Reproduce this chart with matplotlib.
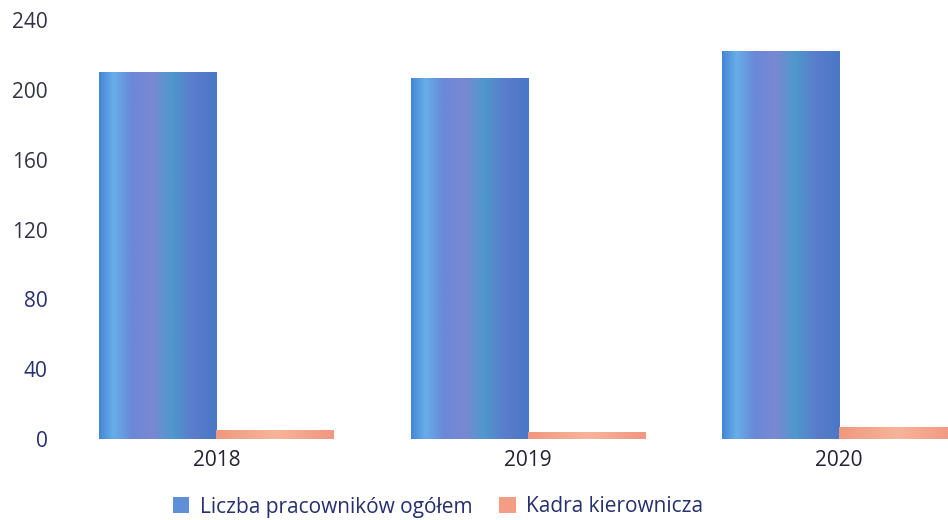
import matplotlib.pyplot as plt
import numpy as np
from matplotlib.colors import LinearSegmentedColormap
from matplotlib.patches import Patch

years = ["2018", "2019", "2020"]
total_staff = [210, 207, 222]
managers = [5, 4, 7]
y_ticks = [0, 40, 80, 120, 160, 200, 240]
tick_colors = ["#26306e", "#26306e", "#26306e", "#333344", "#333344", "#333344", "#333344"]

plt.rcParams['font.family'] = ['Open Sans', 'DejaVu Sans']

blue_cmap = LinearSegmentedColormap.from_list("scanblue", [
    (0.0, "#4586d6"), (0.12, "#66aee8"), (0.28, "#6a88d8"),
    (0.45, "#7a88d2"), (0.62, "#4f98cc"), (0.8, "#5a7ccc"), (1.0, "#4a78c6")])
orange_cmap = LinearSegmentedColormap.from_list("scanorange", ["#f0987e", "#f7b49a", "#f29680"])

fig = plt.figure(figsize=(9.48, 5.2), dpi=100)
ax = fig.add_axes([70 / 948, 1 - 439 / 520, 1 - 70 / 948, (439 - 20) / 520])

x = np.arange(len(years))
w = 0.376
blue_bars = ax.bar(x - w / 2, total_staff, w, color="#5b86d4", edgecolor="#3a5fb0", linewidth=0.6)
orange_bars = ax.bar(x + w / 2, managers, w, color="#f49c84", linewidth=0)

# fake the scanned stripe look with a horizontal gradient clipped to each bar
grad = np.linspace(0, 1, 256).reshape(1, -1)
for bars, cmap in [(blue_bars, blue_cmap), (orange_bars, orange_cmap)]:
    for b in bars:
        x0, y0 = b.get_x(), b.get_y()
        im = ax.imshow(grad, cmap=cmap, aspect="auto", zorder=b.get_zorder() + 0.1,
                       extent=[x0, x0 + b.get_width(), y0, y0 + b.get_height()])
        im.set_clip_path(b)

ax.set_xlim(-0.47, 2.35)
ax.set_ylim(0, 240)
ax.set_xticks(x)
ax.set_xticklabels(years, fontsize=15, color="#222233")
ax.set_yticks(y_ticks)
ax.set_yticklabels([str(v) for v in y_ticks], fontsize=15)
for lbl, c in zip(ax.get_yticklabels(), tick_colors):
    lbl.set_color(c)
ax.tick_params(axis="x", length=0, pad=8)
ax.tick_params(axis="y", length=0, pad=16)
for s in ax.spines.values():
    s.set_visible(False)

handles = [Patch(facecolor="#5f8fd6", edgecolor="none"), Patch(facecolor="#f49c84", edgecolor="none")]
fig.legend(handles, ["Liczba pracowników ogółem", "Kadra kierownicza"], loc="center",
           bbox_to_anchor=(438 / 948, 1 - 507 / 520), ncol=2, frameon=False, fontsize=15,
           handlelength=0.8, handleheight=0.8, handletextpad=0.5, columnspacing=1.3,
           labelcolor="#26306e")

fig.savefig("out.png", dpi=100)
